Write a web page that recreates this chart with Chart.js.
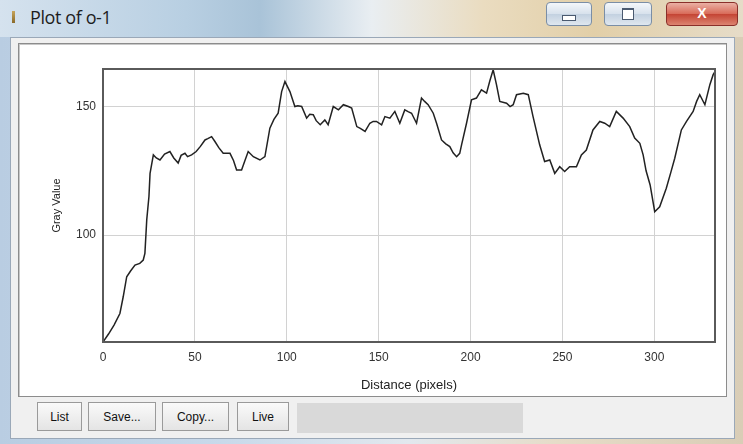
<!DOCTYPE html>
<html>
<head>
<meta charset="utf-8">
<script src="https://cdn.jsdelivr.net/npm/chart.js@4/dist/chart.umd.min.js"></script>
<style>
html,body{margin:0;padding:0;width:743px;height:444px;overflow:hidden;background:#fff;}
#win{position:absolute;left:0;top:0;width:743px;height:444px;background:linear-gradient(90deg,#b9cde2 0%,#c8d9ea 30%,#e2e8ee 55%,#e6dcc8 75%,#d9cdb6 100%);}
#titlebar{position:absolute;left:0;top:0;width:743px;height:37px;background:linear-gradient(90deg,#d5e2ee 0%,#b8cfe2 25%,#a9c3d8 35%,#e9eef2 50%,#eadcc0 65%,#e2cfa8 80%,#e6dcc8 100%);}
#title{position:absolute;left:30px;top:5px;font:18px "Open Sans","Liberation Sans",sans-serif;color:#1d1d1d;letter-spacing:-0.4px;}
#icon{position:absolute;left:12px;top:11px;width:3px;height:12px;background:linear-gradient(#c7a45a,#8a6a2a);}
.wb{position:absolute;top:2px;height:22px;border:1px solid #7a8ea6;border-radius:4px;background:linear-gradient(#f4f7fa,#d7e1ec 50%,#c3d1e0 51%,#dfe7ef);}
#bmin{left:546px;width:44px;}
#bmax{left:604px;width:46px;}
#bcls{left:666px;width:70px;border-color:#8a2f2a;background:linear-gradient(#eab0a4,#d86a58 50%,#c44434 51%,#dc8470);}
#bmin:after{content:"";position:absolute;left:15px;top:12px;width:12px;height:4px;border:1px solid #4a5a70;background:#fff;}
#bmax:after{content:"";position:absolute;left:17px;top:5px;width:10px;height:9px;border:1px solid #4a5a70;border-top-width:2px;background:#fff;}
#bcls span{position:absolute;left:0;right:0;top:0;text-align:center;color:#fff;font:bold 14px "Liberation Sans",sans-serif;line-height:21px;}
#client{position:absolute;left:10px;top:37px;width:723px;height:400px;background:#f0f0f0;border:1px solid #9aa8b8;}
#panel{position:absolute;left:18px;top:43px;width:707px;height:352px;background:#fff;border:1px solid #8c8c8c;box-shadow:inset 1px 1px 0 #c8c8c8;}
#cv{position:absolute;left:18px;top:44px;width:709px;height:353px;}
.btn{position:absolute;top:402px;height:29px;border:1px solid #9a9a9a;background:linear-gradient(#fafafa,#e4e4e4);font:12px "Liberation Sans",Arial,sans-serif;color:#111;text-align:center;line-height:29px;box-sizing:border-box;}
#gray{position:absolute;left:297px;top:403px;width:226px;height:30px;background:#d9d9d9;}
</style>
</head>
<body>
<div id="win">
  <div id="titlebar"></div>
  <div id="icon"></div>
  <div id="title">Plot of o-1</div>
  <div class="wb" id="bmin"></div>
  <div class="wb" id="bmax"></div>
  <div class="wb" id="bcls"><span>X</span></div>
  <div id="client"></div>
  <div id="panel"></div>
  <div id="cv"><canvas id="c" width="709" height="353"></canvas></div>
  <div class="btn" style="left:37px;width:45px;">List</div>
  <div class="btn" style="left:88px;width:68px;">Save...</div>
  <div class="btn" style="left:162px;width:67px;">Copy...</div>
  <div class="btn" style="left:237px;width:52px;">Live</div>
  <div id="gray"></div>
</div>
<script>
const distance = [0,3,6,9.2,11,12.9,15,17.4,20,21.9,22.8,23.8,25,25.6,27.4,29,31,33.5,36.4,38.5,40.9,42.5,44.6,46,48.2,50.7,53,55.5,57,59.1,60.9,63,65.4,69.1,71,72.7,75.4,77,79,81.8,85.4,88.1,90.8,93,95.3,97.2,99,101.7,104.4,106,108.1,110.8,112.5,114.4,116,118.2,120.7,122.5,125.3,128.1,130.8,133.5,135.3,138.1,140,142.6,145.2,147,148.8,151.6,153.4,156.1,158.8,161.5,164.2,166,167.9,170.6,173.3,175,176.9,179.7,181.5,184.2,186.5,188.7,190.5,192.4,194.1,195.1,197.8,200.5,203.2,205.9,208.7,210.5,212.3,214.1,215.9,219.6,221.5,223.2,225,228.7,231.4,234,237.6,240.3,243.1,245.8,248.5,251.2,253.9,257.6,260.3,263,266.6,270.3,273,275.7,279.3,283,286.6,289.3,292.1,293.9,295.5,297.7,300.2,302.9,306.5,309,311.1,314.7,317.5,321.1,323,324.7,327.5,330.2,332,333];
const grayValue = [58.4,61.5,65,69.5,76,83.8,86,88.3,89,90.3,92.9,105.9,115,124,131.2,130,129.2,131.5,132.5,130,128,131,131.8,130.5,131.2,132.5,134.5,137,137.5,138.3,136.4,134,131.8,131.8,129,125.3,125.3,128.5,132.5,130.5,129.2,130.5,141.6,145,147.4,155.8,159.7,155.8,150,150.3,150,145.5,147,146.8,144.5,142.9,144.8,142.9,150,148.7,150.7,150,149.4,142.2,141.5,140.3,143.5,144.2,144.2,142.9,146.1,145.5,148.1,143.5,148.7,148,147.4,143.5,153.3,152,150.7,147.4,143.5,137,135.5,134.4,132,130.5,131.8,135.1,143.5,152.6,153.3,156.5,155.2,160,164.3,158.5,152,151.3,150,150.7,154.6,155.2,154.6,146.1,135.1,128.6,129.2,124,126.6,124.7,126.6,126.6,131.2,133.1,140.9,144.2,143.5,142.2,148.1,145.5,142.2,137.7,135.7,131.2,125,119.5,109.1,111,118.2,124.5,129.9,140.9,144.2,148.1,152,154.6,150.7,158.5,162.4,163.6];
const xTicks = [0,50,100,150,200,250,300];
const yTicks = [100,150];
const xTitle = "Distance (pixels)";
const yTitle = "Gray Value";

const points = distance.map((d,i)=>({x:d,y:grayValue[i]}));

const frame = {
  id:'frame',
  afterDatasetsDraw(chart){
    const a = chart.chartArea, ctx = chart.ctx;
    ctx.save();
    ctx.strokeStyle = '#5a5a5a';
    ctx.lineWidth = 2;
    ctx.strokeRect(a.left, a.top, a.right-a.left, a.bottom-a.top);
    ctx.restore();
  }
};

const fam = '"Liberation Sans", Arial, sans-serif';
new Chart(document.getElementById('c'), {
  type:'line',
  data:{datasets:[{data:points,borderColor:'#222',borderWidth:1.5,pointRadius:0,tension:0,fill:false}]},
  options:{
    responsive:false,animation:false,
    layout:{padding:{left:32,right:12,top:25,bottom:0}},
    plugins:{legend:{display:false},tooltip:{enabled:false}},
    scales:{
      x:{type:'linear',min:0,max:333,
        afterBuildTicks(s){s.ticks = xTicks.map(v=>({value:v}));},
        afterFit(s){s.height = 55;},
        grid:{color:'#d2d2d2',lineWidth:1,drawTicks:false},
        border:{display:false},
        ticks:{padding:8,color:'#333',font:{family:fam,size:12},maxRotation:0},
        title:{display:true,text:xTitle,color:'#222',font:{family:fam,size:13},padding:{top:4}}
      },
      y:{type:'linear',min:58.4,max:164.6,
        afterBuildTicks(s){s.ticks = yTicks.map(v=>({value:v}));},
        afterFit(s){s.width = 53;},
        grid:{color:'#d2d2d2',lineWidth:1,drawTicks:false},
        border:{display:false},
        ticks:{padding:7,color:'#333',font:{family:fam,size:12}},
        title:{display:true,text:yTitle,color:'#222',font:{family:fam,size:11},padding:{top:0,bottom:0}}
      }
    }
  },
  plugins:[frame]
});
</script>
</body>
</html>
